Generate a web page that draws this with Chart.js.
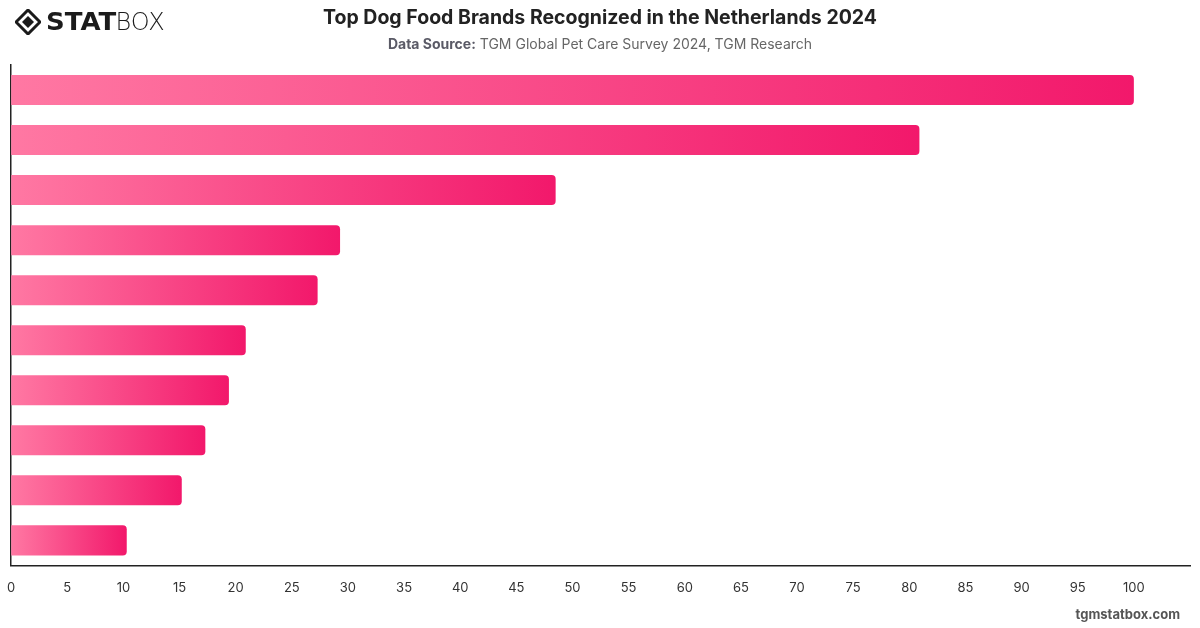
<!DOCTYPE html>
<html>
<head>
<meta charset="utf-8">
<script src="https://cdn.jsdelivr.net/npm/chart.js@4.4.1/dist/chart.umd.min.js"></script>
<style>
  body { margin: 0; background: #fff; font-family: Inter, "Noto Sans", sans-serif; }
  .wrap { position: relative; width: 1200px; height: 628px; overflow: hidden; }
  canvas { position: absolute; left: 0; top: 0; }
  .logo { position: absolute; left: 15px; top: 7px; display: flex; align-items: center; }
  .logo .stat { font-family: "DejaVu Sans", sans-serif; font-weight: 900; font-size: 25px; color: #1b1b1b; margin-left: 5px; transform: scaleX(1.04); transform-origin: left; display: inline-block; margin-right: 2px; }
  .logo .box { font-family: "DejaVu Sans", sans-serif; font-weight: 300; font-size: 24px; color: #1b1b1b; }
  .title { position: absolute; left: 0; width: 1200px; top: 5px; text-align: center; font-size: 19.5px; font-weight: 700; color: #222; }
  .sub { position: absolute; left: 0; width: 1200px; top: 35px; text-align: center; font-size: 14px; color: #666; }
  .sub b { color: #5a5a66; }
  .foot { position: absolute; right: 20px; top: 606px; font-size: 13px; font-weight: 700; color: #555; }
</style>
</head>
<body>
<div class="wrap">
  <canvas id="chart" width="1200" height="628"></canvas>
  <div class="logo">
    <svg width="26" height="26" viewBox="0 0 26 26">
      <path d="M13 1 L25 13 L13 25 L1 13 Z" fill="none" stroke="#1b1b1b" stroke-width="3"/>
      <path d="M13 7 L19 13 L13 19 L7 13 Z" fill="#1b1b1b"/>
    </svg>
    <span class="stat">STAT</span><span class="box">BOX</span>
  </div>
  <div class="title">Top Dog Food Brands Recognized in the Netherlands 2024</div>
  <div class="sub"><b>Data Source:</b> TGM Global Pet Care Survey 2024, TGM Research</div>
  <div class="foot">tgmstatbox.com</div>
</div>
<script>
// brand names are not shown on the reference, so generic labels are used
const brands = ["Brand 1", "Brand 2", "Brand 3", "Brand 4", "Brand 5",
                "Brand 6", "Brand 7", "Brand 8", "Brand 9", "Brand 10"];
const recognition = [100, 80.9, 48.5, 29.3, 27.3, 20.9, 19.4, 17.3, 15.2, 10.3];
const xMax = 105;
const xStep = 5;

function barGradient(context) {
  const chart = context.chart;
  const area = chart.chartArea;
  if (!area || context.parsed == null) return "#f31a6b";
  const xScale = chart.scales.x;
  const x0 = xScale.getPixelForValue(0);
  const x1 = xScale.getPixelForValue(context.parsed.x);
  const g = chart.ctx.createLinearGradient(x0, 0, Math.max(x1, x0 + 1), 0);
  g.addColorStop(0, "#ff78a3");
  g.addColorStop(1, "#f2186b");
  return g;
}

new Chart(document.getElementById("chart"), {
  type: "bar",
  data: {
    labels: brands,
    datasets: [{
      data: recognition,
      backgroundColor: barGradient,
      borderRadius: 4,
      borderSkipped: "start",
      barPercentage: 0.6,
      categoryPercentage: 1.0
    }]
  },
  options: {
    indexAxis: "y",
    responsive: false,
    animation: false,
    layout: { padding: { left: 3, right: 10, top: 65, bottom: 25 } },
    plugins: { legend: { display: false }, tooltip: { enabled: false } },
    scales: {
      x: {
        min: 0,
        max: xMax,
        grid: { display: false },
        border: { display: true, color: "#222", width: 1.5 },
        ticks: {
          stepSize: xStep,
          padding: 7,
          color: "#333",
          font: { family: "Inter", size: 13 },
          maxRotation: 0,
          callback: (v) => (v === xMax ? "" : v)
        }
      },
      y: {
        grid: { display: false },
        border: { display: true, color: "#222", width: 1.5 },
        ticks: { display: false }
      }
    }
  }
});
</script>
</body>
</html>
